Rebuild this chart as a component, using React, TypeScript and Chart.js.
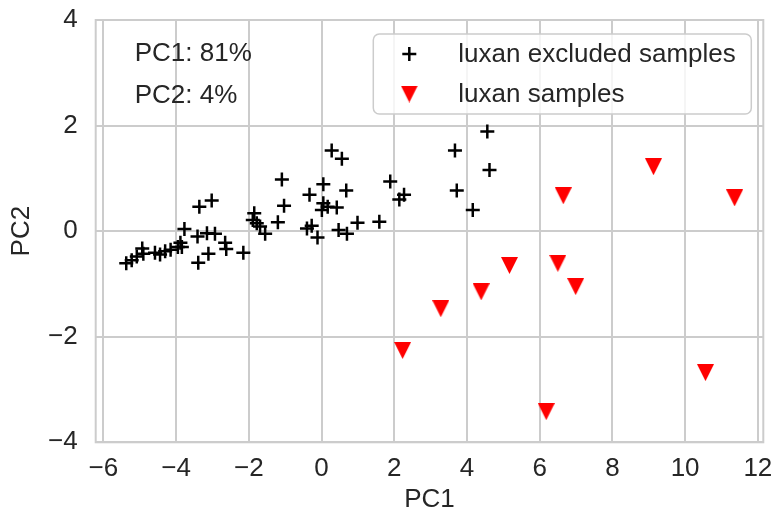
import React, { useEffect, useRef } from "react";
import { Chart, registerables } from "chart.js";

Chart.register(...registerables);

// ---- data ----
const excludedX = [
  -5.37, -5.22, -5.08, -4.93, -4.9, -4.58, -4.44, -4.3, -4.15, -3.95, -3.88, -3.84,
  -3.77, -3.41, -3.15, -2.93, -2.65, -2.62, -2.15, -3.11, -3.39, -3.36, -3.02,
  -1.85, -1.89, -1.78, -1.69, -1.55, -1.2, -1.03, -1.09, -0.4, -0.27, -0.11,
  -0.33, 0.05, 0.05, 0.01, 0.17, 0.42, 0.68, 0.28, 0.56, 0.47, 0.7, 0.99, 1.59,
  1.89, 2.27, 2.14, 3.67, 4.56, 4.62, 3.72, 4.16,
];
const excludedY = [
  -0.61, -0.55, -0.48, -0.33, -0.43, -0.41, -0.44, -0.38, -0.35, -0.3, -0.22, -0.3,
  0.04, -0.1, -0.04, -0.05, -0.22, -0.34, -0.41, -0.43, -0.6, 0.46, 0.58,
  0.34, 0.21, 0.15, 0.09, -0.05, 0.17, 0.48, 0.98, 0.05, 0.1, -0.12,
  0.69, 0.89, 0.53, 0.4, 0.46, 0.45, 0.77, 1.53, 1.37, 0.02, -0.05, 0.16, 0.18,
  0.94, 0.69, 0.6, 1.53, 1.89, 1.16, 0.77, 0.4,
];
const samplesX = [9.13, 11.36, 6.65, 5.17, 6.5, 6.99, 4.39, 3.28, 2.23, 10.56, 6.18];
const samplesY = [1.22, 0.63, 0.67, -0.65, -0.61, -1.05, -1.15, -1.47, -2.26, -2.68, -3.42];

const seriesLabels = ["luxan excluded samples", "luxan samples"];
const xTicks = [-6, -4, -2, 0, 2, 4, 6, 8, 10, 12];
const yTicks = [-4, -2, 0, 2, 4];
const xRange = [-6.21, 12.15];
const yRange = [-4, 4];
const xTitle = "PC1";
const yTitle = "PC2";
const annotations = ["PC1: 81%", "PC2: 4%"];

// ---- styles ----
const FONT = "'Liberation Sans', Arial, Helvetica, sans-serif";
const FS = 26;
const TEXT = "#262626";
const GRID = "#cccccc";

function makeTriangle(size: number, color: string) {
  const c = document.createElement("canvas");
  c.width = size;
  c.height = size;
  const ctx = c.getContext("2d")!;
  ctx.fillStyle = color;
  ctx.beginPath();
  ctx.moveTo(0, 0);
  ctx.lineTo(size, 0);
  ctx.lineTo(size / 2, size);
  ctx.closePath();
  ctx.fill();
  return c;
}

const fmt = (v: number) => (v < 0 ? "\u2212" + Math.abs(v) : String(v));

export default function App() {
  const ref = useRef<HTMLCanvasElement | null>(null);

  useEffect(() => {
    document.body.style.margin = "0";
    const canvas = ref.current!;
    const tri = makeTriangle(17, "#ff0000");

    const framePlugin = {
      id: "frame",
      beforeDatasetsDraw(chart: any) {
        const { ctx, chartArea: a } = chart;
        ctx.save();
        ctx.strokeStyle = GRID;
        ctx.lineWidth = 2;
        ctx.strokeRect(a.left, a.top, a.right - a.left, a.bottom - a.top);
        ctx.restore();
      },
    };

    const overlayPlugin = {
      id: "overlay",
      afterDatasetsDraw(chart: any) {
        const { ctx, chartArea: a } = chart;
        ctx.save();
        ctx.font = `${FS}px ${FONT}`;
        ctx.fillStyle = TEXT;
        ctx.textBaseline = "middle";
        ctx.textAlign = "left";
        ctx.fillText(annotations[0], a.left + 39, a.top + 34);
        ctx.fillText(annotations[1], a.left + 39, a.top + 76);

        // legend box
        const bx = a.right - 390;
        const by = a.top + 14;
        const bw = 378;
        const bh = 80;
        const r = 6;
        ctx.beginPath();
        ctx.moveTo(bx + r, by);
        ctx.arcTo(bx + bw, by, bx + bw, by + bh, r);
        ctx.arcTo(bx + bw, by + bh, bx, by + bh, r);
        ctx.arcTo(bx, by + bh, bx, by, r);
        ctx.arcTo(bx, by, bx + bw, by, r);
        ctx.closePath();
        ctx.fillStyle = "rgba(255,255,255,0.8)";
        ctx.fill();
        ctx.strokeStyle = GRID;
        ctx.lineWidth = 1.5;
        ctx.stroke();

        const mx = bx + 36;
        const tx = bx + 85;
        const rows = [by + 20, by + 60];
        const ds = chart.data.datasets;
        ctx.strokeStyle = ds[0].borderColor;
        ctx.lineWidth = 2.5;
        ctx.beginPath();
        ctx.moveTo(mx - 7, rows[0]);
        ctx.lineTo(mx + 7, rows[0]);
        ctx.moveTo(mx, rows[0] - 7);
        ctx.lineTo(mx, rows[0] + 7);
        ctx.stroke();
        ctx.drawImage(tri, mx - tri.width / 2, rows[1] - tri.height / 2);
        ctx.fillStyle = TEXT;
        ctx.fillText(ds[0].label, tx, rows[0] + 1);
        ctx.fillText(ds[1].label, tx, rows[1] + 1);
        ctx.restore();
      },
    };

    const tickFont = { family: FONT, size: FS, lineHeight: 1.2 };

    const chart = new Chart(canvas, {
      type: "scatter",
      data: {
        datasets: [
          {
            label: seriesLabels[0],
            data: excludedX.map((x, i) => ({ x, y: excludedY[i] })),
            pointStyle: "cross",
            pointRadius: 7,
            pointHoverRadius: 7,
            borderColor: "#000000",
            backgroundColor: "#000000",
            borderWidth: 2.5,
          },
          {
            label: seriesLabels[1],
            data: samplesX.map((x, i) => ({ x, y: samplesY[i] })),
            pointStyle: tri as any,
            pointRadius: 9,
            borderColor: "#ff0000",
            backgroundColor: "#ff0000",
          },
        ],
      },
      options: {
        animation: false,
        responsive: false,
        devicePixelRatio: 1,
        events: [],
        layout: { padding: { top: 20, right: 10.7, left: 0, bottom: 0 } },
        plugins: { legend: { display: false }, tooltip: { enabled: false } },
        scales: {
          x: {
            type: "linear",
            min: xRange[0],
            max: xRange[1],
            afterBuildTicks: (s: any) => {
              s.ticks = xTicks.map((v) => ({ value: v }));
            },
            afterFit: (s: any) => {
              s.height = 72.7;
              s.paddingLeft = 0;
              s.paddingRight = 0;
            },
            grid: { color: GRID, lineWidth: 2, drawTicks: false },
            border: { display: false },
            ticks: {
              padding: 11,
              color: TEXT,
              font: tickFont,
              maxRotation: 0,
              autoSkip: false,
              callback: (v: any) => fmt(Number(v)),
            },
            title: {
              display: true,
              text: xTitle,
              color: TEXT,
              font: tickFont,
              padding: { top: 0, bottom: 0 },
            },
          },
          y: {
            type: "linear",
            min: yRange[0],
            max: yRange[1],
            afterBuildTicks: (s: any) => {
              s.ticks = yTicks.map((v) => ({ value: v }));
            },
            afterFit: (s: any) => {
              s.width = 95.7;
              s.paddingTop = 0;
              s.paddingBottom = 0;
            },
            grid: { color: GRID, lineWidth: 2, drawTicks: false },
            border: { display: false },
            ticks: {
              padding: 18,
              color: TEXT,
              font: tickFont,
              autoSkip: false,
              callback: (v: any) => fmt(Number(v)),
            },
            title: {
              display: true,
              text: yTitle,
              color: TEXT,
              font: tickFont,
              padding: { top: 6, bottom: 0 },
            },
          },
        },
      },
      plugins: [framePlugin, overlayPlugin],
    });
    return () => chart.destroy();
  }, []);

  return (
    <canvas
      ref={ref}
      width={774}
      height={515}
      style={{ display: "block", width: 774, height: 515 }}
    />
  );
}
